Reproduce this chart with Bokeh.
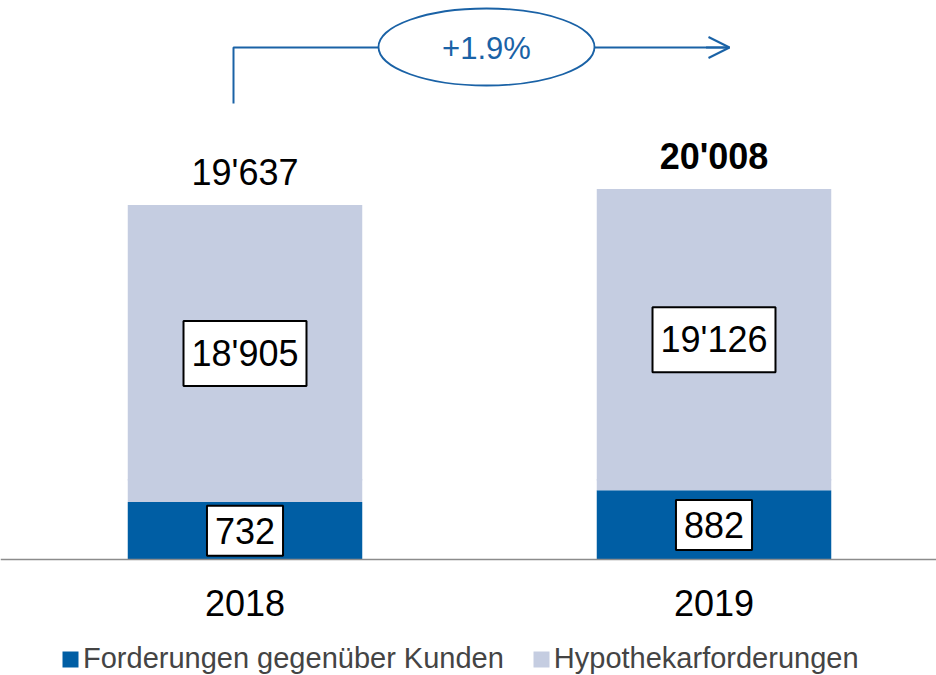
import numpy as np
from bokeh.plotting import figure
from bokeh.models import Range1d, Span, Legend, LegendItem, Arrow, OpenHead, ColumnDataSource
from bokeh.core.properties import value
from bokeh.embed import file_html
from bokeh.resources import INLINE

# ---------------- data ----------------
years = ["2018", "2019"]
forderungen_kunden = [732, 882]
hypothekarforderungen = [18905, 19126]
totals = [19637, 20008]
series_names = ["Forderungen gegenüber Kunden", "Hypothekarforderungen"]

# ---------------- style ----------------
DARK = "#005EA4"
LIGHT = "#C5CDE1"
BLUE = "#1A62A6"
FONT = "Liberation Sans"

W, H = 936, 675
# broken value axis (as in the original): lower part stretched, upper part compressed
BASE_PX = 116        # baseline height above figure bottom (px)
LOW_SCALE = 0.0785   # px per unit below the break
BREAK_PX = 195       # break position above figure bottom (px)
UP_SCALE = 0.0431    # px per unit above the break
BREAK_UP = 13245     # value at the break on the upper scale
X_SCALE = 469        # px per category step
X0_PX = 244.5        # centre of first category (px from left)

low_range = Range1d(-BASE_PX / LOW_SCALE, (H - BASE_PX) / LOW_SCALE)
break_low = (BREAK_PX - BASE_PX) / LOW_SCALE
up_start = BREAK_UP - BREAK_PX / UP_SCALE
up_range = Range1d(up_start, up_start + H / UP_SCALE)
px_range = Range1d(0, H)
x_range = Range1d(-X0_PX / X_SCALE, (W - X0_PX) / X_SCALE)

p = figure(width=W, height=H, x_range=x_range, y_range=low_range,
           output_backend="svg", toolbar_location=None,
           x_axis_location=None, y_axis_location=None,
           min_border=0, outline_line_color=None)
p.extra_y_ranges = {"up": up_range, "px": px_range}
p.grid.visible = False
p.background_fill_color = "white"

x = np.arange(len(years))
dark = np.array(forderungen_kunden, dtype=float)
light = np.array(hypothekarforderungen, dtype=float)
top = dark + light

def fmt(v):
    return f"{int(round(v)):,}".replace(",", "'")

BAR_W = 0.5

# dark segment
r_dark = p.vbar(x=x, bottom=0, top=dark, width=BAR_W, fill_color=DARK, line_color=None)
# light segment, below the break (on lower scale)
p.vbar(x=x, bottom=dark, top=np.full(len(x), break_low + 1.5 / LOW_SCALE), width=BAR_W,
       fill_color=LIGHT, line_color=None)
# light segment, above the break (on upper scale)
r_light = p.vbar(x=x, bottom=BREAK_UP, top=top, width=BAR_W, fill_color=LIGHT,
                 line_color=None, y_range_name="up")

# baseline
p.add_layout(Span(location=0, dimension="width", line_color="#8C8C8C", line_width=1.5))

box_kw = dict(text_align="center", text_baseline="middle", text_font=value(FONT),
              text_font_size="36px", text_color="black",
              background_fill_color="white", border_line_color="black",
              border_line_width=2, padding=(8, 12))

# dark labels
p.text(x=x, y=dark / 2, text=[fmt(v) for v in dark], **box_kw)
# light labels (visual midpoint of the segment)
bottom_px = BASE_PX + dark * LOW_SCALE
top_px = BREAK_PX + (top - BREAK_UP) * UP_SCALE
p.text(x=x, y=(bottom_px + top_px) / 2, text=[fmt(v) for v in light],
       y_range_name="px", **box_kw)

# totals
styles = ["bold" if i == len(years) - 1 else "normal" for i in range(len(years))]
src_tot = ColumnDataSource(dict(x=x, y=totals, t=[fmt(v) for v in totals], s=styles))
p.text(x="x", y="y", text="t", text_font_style="s", source=src_tot, y_range_name="up",
       y_offset=-33, text_align="center", text_baseline="middle",
       text_font=value(FONT), text_font_size="36px", text_color="black")

# year labels
p.text(x=x, y=np.zeros(len(x)), text=years, y_offset=43, text_align="center",
       text_baseline="middle", text_font=value(FONT), text_font_size="36px",
       text_color="black")

# growth annotation
growth = (totals[-1] / totals[0] - 1) * 100
g_label = f"{growth:+.1f}%"
xs = x[0] - 11.5 / X_SCALE
xt = x[-1] + 15.5 / X_SCALE
xm = (x[0] + x[-1]) / 2 + 7 / X_SCALE
LINE_Y = 628
p.line(x=[xs, xs, xt], y=[572, LINE_Y, LINE_Y], y_range_name="px",
       line_color=BLUE, line_width=2)
p.add_layout(Arrow(end=OpenHead(size=21, line_color=BLUE, line_width=2),
                   x_start=xt - 0.05, y_start=LINE_Y, x_end=xt, y_end=LINE_Y,
                   y_range_name="px", line_color=BLUE, line_width=2))
p.ellipse(x=[xm], y=[LINE_Y + 0.5], width=216, height=77,
          width_units="screen", height_units="screen",
          fill_color="white", line_color=BLUE, line_width=1.8, y_range_name="px")
p.text(x=[xm], y=[LINE_Y - 1], text=[g_label], text_align="center",
       text_baseline="middle", text_color=BLUE, text_font_size="31px",
       text_font=value(FONT), y_range_name="px")

legend = Legend(items=[LegendItem(label=series_names[0], renderers=[r_dark]),
                       LegendItem(label=series_names[1], renderers=[r_light])],
                location=(60, 0), orientation="horizontal", padding=0, margin=0,
                spacing=27, label_standoff=3, glyph_width=20, glyph_height=20,
                label_text_font=FONT, label_text_font_size="29px",
                border_line_color=None, background_fill_alpha=0)
p.add_layout(legend)

open("out.html", "w").write(file_html(p, INLINE))
